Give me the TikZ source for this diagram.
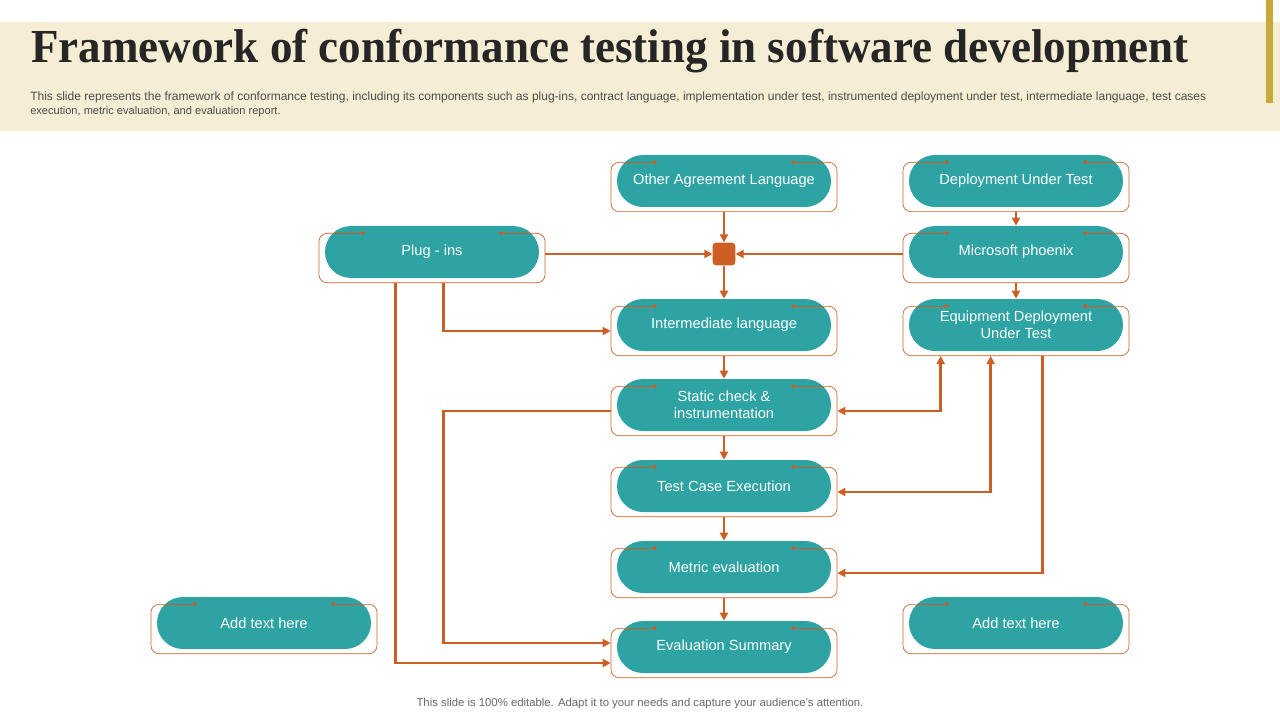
\documentclass[tikz,border=0pt]{standalone}
\usepackage{fontspec}
\setmainfont{Liberation Sans}
\newfontfamily\titlefont{Liberation Serif}
\usetikzlibrary{arrows.meta,calc}
\definecolor{teal1}{HTML}{2EA3A3}
\definecolor{org}{HTML}{CD5F25}
\definecolor{band}{HTML}{F5EDD4}
\definecolor{gold}{HTML}{C9A93A}
\tikzset{
 pill/.style={fill=teal1,draw=none,rounded corners=19.5pt,minimum width=160.5pt,minimum height=39pt,text=white,font=\fontsize{11}{13}\selectfont,align=center,inner sep=0pt},
 frame/.style={draw=org,line width=0.5pt,rounded corners=6pt,minimum width=169.5pt,minimum height=37pt,inner sep=0pt},
 conn/.style={draw=org,line width=2pt,-{Triangle[length=6pt,width=6pt]}},
 tick/.style={draw=org,line width=0.6pt,-{Circle[length=3pt]}},
}
\newcommand{\boxnode}[4]{% name, x, y, text
 \node[frame] (#1) at (#2,#3+6) {};
 \node[pill] (#1p) at (#2,#3) {#4};
 \draw[tick] ($(#1.north west)+(14,0)$) -- ++(32,0);
 \draw[tick] ($(#1.north east)+(-14,0)$) -- ++(-32,0);
}
\begin{document}
\begin{tikzpicture}[x=0.75pt,y=-0.75pt]
\useasboundingbox (0,0) rectangle (1280,720);
\fill[band] (0,22) rectangle (1280,131);
\fill[gold] (1266,0) rectangle (1273,103);
\node[anchor=west,inner sep=0pt,text=black!85] (title) at (31,51) {\resizebox{868pt}{25pt}{\titlefont\bfseries\fontsize{27}{30}\selectfont Framework of conformance testing in software development}};
\node[anchor=north west,inner sep=0pt,align=left,font=\fontsize{8.3}{10.5}\selectfont,text=black!70] (sub) at (30,92) {\resizebox{882pt}{!}{This slide represents the framework of conformance testing, including its components such as plug-ins, contract language, implementation under test, instrumented deployment under test, intermediate language, test cases}\\execution, metric evaluation, and evaluation report.};
\boxnode{oal}{724}{181}{Other Agreement Language}
\boxnode{dut}{1016}{181}{Deployment Under Test}
\boxnode{plug}{432}{252}{Plug - ins}
\boxnode{mp}{1016}{252}{Microsoft phoenix}
\boxnode{il}{724}{325}{Intermediate language}
\boxnode{edut}{1016}{325}{Equipment Deployment\\Under Test}
\boxnode{sci}{724}{405}{Static check \&\\instrumentation}
\boxnode{tce}{724}{486}{Test Case Execution}
\boxnode{me}{724}{567}{Metric evaluation}
\boxnode{es}{724}{647}{Evaluation Summary}
\boxnode{addl}{264}{623}{Add text here}
\boxnode{addr}{1016}{623}{Add text here}
\node[fill=org,rounded corners=2.5pt,minimum size=17pt,inner sep=0pt] (hub) at (724,254) {};
\coordinate (xa) at ($(plug.south west)+(125,0)$);
\coordinate (xb) at ($(plug.south west)+(77,0)$);
\draw[conn] (oal.south) -- (hub.north);
\draw[conn] (plug.east |- hub) -- (hub.west);
\draw[conn] (mp.west |- hub) -- (hub.east);
\draw[conn] (hub.south) -- (ilp.north);
\draw[conn] (il.south) -- (scip.north);
\draw[conn] (sci.south) -- (tcep.north);
\draw[conn] (tce.south) -- (mep.north);
\draw[conn] (me.south) -- (esp.north);
\draw[conn] (dut.south) -- (mpp.north);
\draw[conn] (mp.south) -- (edutp.north);
\draw[conn] (xa) |- (il.west);
\draw[conn] (xb) |- ($(es.west)+(0,10)$);
\draw[conn] (sci.west) -- (xa |- sci.west) |- ($(es.west)+(0,-10)$);
\draw[conn,{Triangle[length=6pt,width=6pt]}-{Triangle[length=6pt,width=6pt]}] (sci.east) -| ($(edut.south west)+(38,0)$);
\draw[conn,{Triangle[length=6pt,width=6pt]}-{Triangle[length=6pt,width=6pt]}] (tce.east) -| ($(edut.south west)+(88,0)$);
\draw[conn] ($(edut.south west)+(140,0)$) |- (me.east);
\node[font=\fontsize{8.5}{10}\selectfont,text=black!60] (foot) at (640,704) {This slide is 100\% editable. Adapt it to your needs and capture your audience’s attention.};
\end{tikzpicture}
\end{document}
